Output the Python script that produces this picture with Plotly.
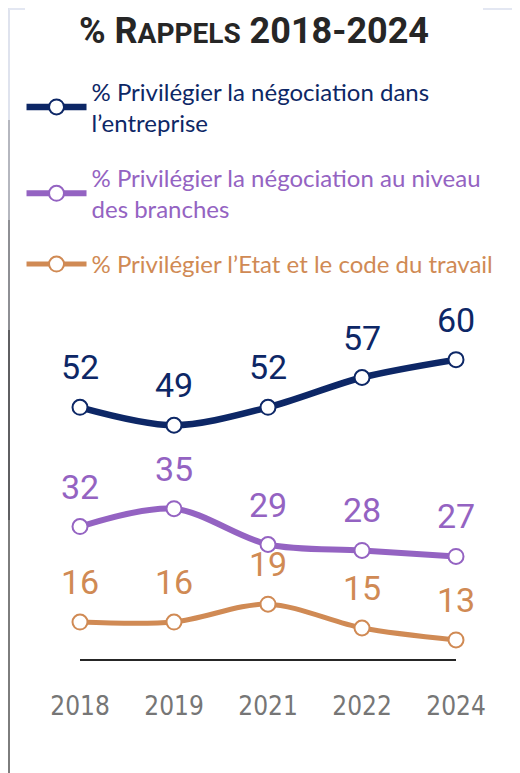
import plotly.graph_objects as go

# valeurs
years = ['2018', '2019', '2021', '2022', '2024']
entreprise = [52, 49, 52, 57, 60]
branches = [32, 35, 29, 28, 27]
etat = [16, 16, 19, 15, 13]

names = ['% Privilégier la négociation dans<br>l’entreprise',
         '% Privilégier la négociation au niveau<br>des branches',
         '% Privilégier l’Etat et le code du travail']
colors = ['#0d2766', '#9463c2', '#d08a54']
widths = [6.5, 6, 5]

W, H = 512, 765
L, R, T, B = 72, 64, 292, 114


def px(x):  # pixel -> paper (x)
    return (x - L) / (W - L - R)


def py(y):  # pixel -> paper (y)
    return (H - B - y) / (H - T - B)


fig = go.Figure()
for i, vals in enumerate([entreprise, branches, etat]):
    fig.add_trace(go.Scatter(
        x=years, y=vals, mode='lines+markers',
        name='<span style="color:%s">%s</span>' % (colors[i], names[i]),
        legendgroup='g%d' % i,
        line=dict(color=colors[i], width=widths[i], shape='spline', smoothing=0.9),
        marker=dict(size=15, color='white', line=dict(color=colors[i], width=2)),
        cliponaxis=False, hoverinfo='skip'))
    for j, v in enumerate(vals):
        fig.add_annotation(x=j, y=v, text=str(v), showarrow=False, yshift=40,
                           font=dict(family='Roboto', size=34, color=colors[i]))

# cadre de la diapo
segs = [(0, 112, '#dfe3ee'), (112, 212, '#b5b7bf'), (212, 322, '#8e8f94'),
        (322, 512, '#5f5f62'), (512, 765, '#7d7d7d')]
for y0, y1, c in segs:
    fig.add_shape(type='line', xref='paper', yref='paper', x0=px(1), x1=px(1),
                  y0=py(y0), y1=py(y1), line=dict(color=c, width=2))
fig.add_shape(type='line', xref='paper', yref='paper', x0=px(1), x1=px(17),
              y0=py(1), y1=py(1), line=dict(color='#e3e7f2', width=2))
fig.add_shape(type='line', xref='paper', yref='paper', x0=px(475), x1=px(512),
              y0=py(1), y1=py(1), line=dict(color='#e3e7f2', width=2))

fig.update_layout(
    width=W, height=H,
    margin=dict(l=L, r=R, t=T, b=B, autoexpand=False),
    plot_bgcolor='white', paper_bgcolor='white',
    title=dict(text='% R<span style="font-size:28px">APPELS</span> 2018-2024',
               x=0.4805, xanchor='center', y=0.971, yanchor='middle',
               font=dict(family='Roboto', size=36, color='#262626', weight='bold')),
    legend=dict(xref='container', yref='container', x=0.0264, y=0.92,
                xanchor='left', yanchor='top', itemwidth=60,
                tracegroupgap=21, font=dict(family='Lato', size=24),
                bgcolor='rgba(0,0,0,0)'),
    showlegend=True,
    xaxis=dict(type='category', range=[0, 4], showgrid=False, zeroline=False,
               showline=True, linecolor='#262626', linewidth=2, ticks='outside',
               ticklen=23, tickcolor='rgba(0,0,0,0)', automargin=False,
               tickfont=dict(family='Liberation Sans Narrow, DejaVu Sans Condensed, Roboto',
                             size=26, color='#767676')),
    yaxis=dict(range=[9.8, 70], visible=False, automargin=False),
)

fig.write_html('out.html')
